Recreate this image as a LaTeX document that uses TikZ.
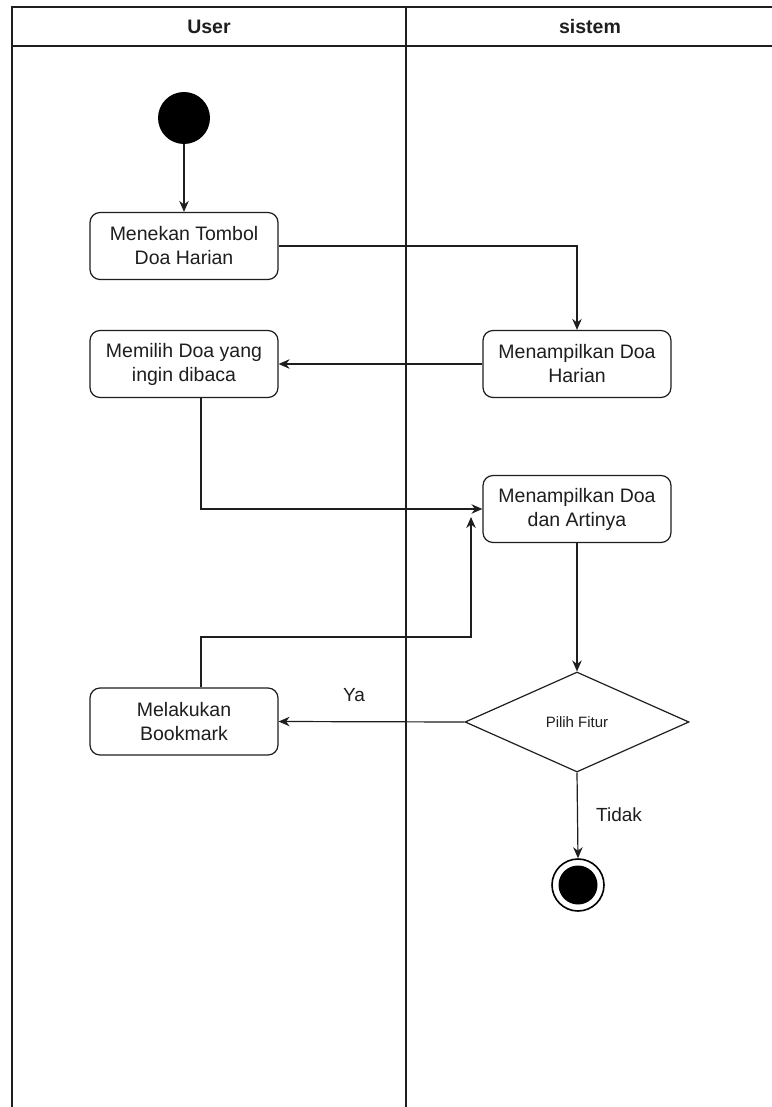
\documentclass[tikz,border=0pt]{standalone}
\usepackage{fontspec}
\setmainfont{Liberation Sans}
\usetikzlibrary{shapes.geometric,arrows.meta}
\definecolor{ink}{HTML}{1E1E1E}
\begin{document}
\begin{tikzpicture}[x=1pt,y=-1pt,
  lane/.style={line width=1.3pt,draw=ink},
  action/.style={draw=ink,line width=1.2pt,rounded corners=10pt,
    minimum width=188pt,minimum height=67pt,align=center,
    font=\fontsize{19.5}{24}\selectfont,text=ink,inner sep=2pt},
  decision/.style={diamond,draw=ink,line width=1.2pt,minimum width=224pt,
    minimum height=100pt,inner sep=0pt,font=\fontsize{15}{18}\selectfont,text=ink},
  flow/.style={draw=ink,line width=1.2pt,-{Stealth[length=11pt,width=9.5pt]}},
  lbl/.style={font=\fontsize{19}{22}\selectfont,text=ink},
  head/.style={font=\bfseries\fontsize{19.5}{22}\selectfont,text=ink}]
\useasboundingbox (0,0) rectangle (771,1107);
\fill[white] (0,0) rectangle (771,1107);

% swimlane frame
\coordinate (tl) at (12,7);
\coordinate (tr) at (775,7);
\coordinate (hl) at (12,46);
\coordinate (hr) at (775,46);
\coordinate (bl) at (12,1110);
\coordinate (dtop) at (406,7);
\coordinate (dbot) at (406,1110);
\draw[lane] (bl) -- (tl) -- (tr);
\draw[lane] (hl) -- (hr);
\draw[lane] (dtop) -- (dbot);
\node[head] (huser) at (209,27) {User};
\node[head] (hsys) at (590,27) {sistem};

% start
\node[circle,fill=black,minimum size=52pt,inner sep=0pt] (start) at (184,118) {};

% actions
\node[action] (b1) at (184,246) {Menekan Tombol\\Doa Harian};
\node[action] (b2) at (184,364) {Memilih Doa yang\\ingin dibaca};
\node[action] (b3) at (577,364) {Menampilkan Doa\\Harian};
\node[action] (b4) at (577,509) {Menampilkan Doa\\dan Artinya};
\node[action] (b5) at (184,721.5) {Melakukan\\Bookmark};

% decision and end
\node[decision] (dec) at (577,722) {Pilih Fitur};
\node[circle,draw=black,line width=1.6pt,minimum size=52pt,inner sep=0pt] (end) at (578,885) {};
\node[circle,fill=black,minimum size=39pt,inner sep=0pt] (endfill) at (end.center) {};

% flow
\coordinate (b2out) at ([xshift=17pt]b2.south);
\coordinate (b5out) at ([xshift=17pt]b5.north);
\coordinate (bend) at (471,637);
\coordinate (join) at (471,517);
\draw[flow] (start) -- (b1);
\draw[flow] (b1.east) -| (b3.north);
\draw[flow] (b3.west) -- (b2.east);
\draw[flow] (b2out) |- (b4.west);
\draw[flow] (b5out) |- (bend) -- (join);
\draw[flow] (b4.south) -- (dec.north);
\draw[flow] (dec.west) -- (b5.east);
\draw[flow] (dec.south) -- (end.north);

\node[lbl] (ya) at (354,695) {Ya};
\node[lbl] (tidak) at (619,815) {Tidak};
\end{tikzpicture}
\end{document}
